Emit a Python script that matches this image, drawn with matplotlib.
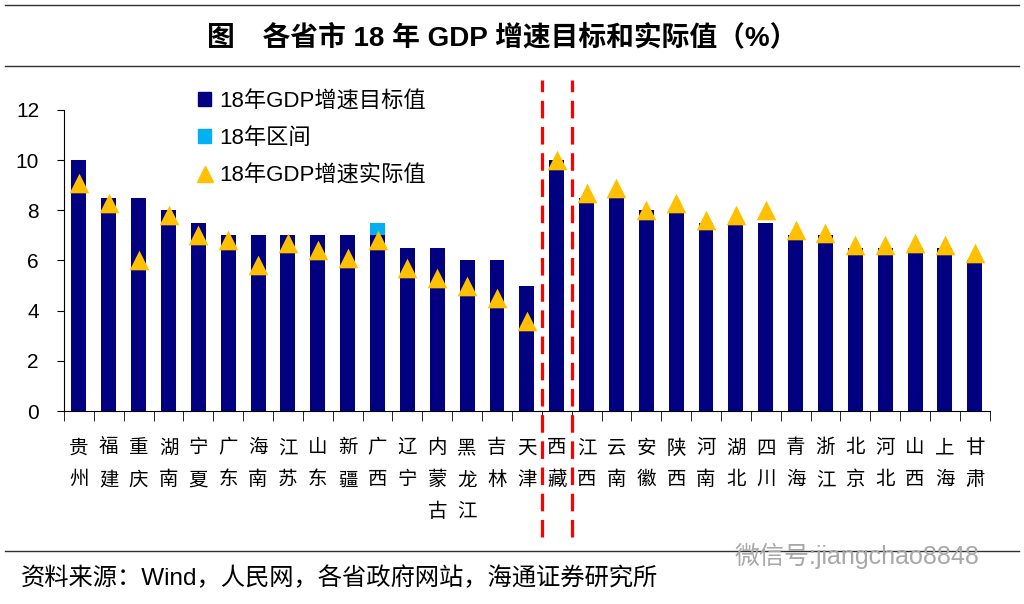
import numpy as np
import matplotlib.pyplot as plt
from matplotlib.lines import Line2D
from matplotlib.patches import Patch

plt.rcParams['font.family'] = ['Liberation Sans', 'Noto Sans CJK SC']

# 省份（竖排显示）
provinces = ['贵州', '福建', '重庆', '湖南', '宁夏', '广东', '海南', '江苏', '山东', '新疆',
             '广西', '辽宁', '内蒙古', '黑龙江', '吉林', '天津', '西藏', '江西', '云南', '安徽',
             '陕西', '河南', '湖北', '四川', '青海', '浙江', '北京', '河北', '山西', '上海', '甘肃']
# 18年GDP增速目标值
target = [10, 8.5, 8.5, 8, 7.5, 7, 7, 7, 7, 7,
          7, 6.5, 6.5, 6, 6, 5, 10, 8.5, 8.5, 8,
          8, 7.5, 7.5, 7.5, 7, 7, 6.5, 6.5, 6.5, 6.5, 6]
# 18年区间（目标上限 - 下限）
interval = [0, 0, 0, 0, 0, 0, 0, 0, 0, 0,
            0.5, 0, 0, 0, 0, 0, 0, 0, 0, 0,
            0, 0, 0, 0, 0, 0, 0, 0, 0, 0, 0]
# 18年GDP增速实际值
actual = [9.1, 8.3, 6.0, 7.8, 7.0, 6.8, 5.8, 6.7, 6.4, 6.1,
          6.8, 5.7, 5.3, 5.0, 4.5, 3.6, 10.0, 8.7, 8.9, 8.0,
          8.3, 7.6, 7.8, 8.0, 7.2, 7.1, 6.6, 6.6, 6.7, 6.6, 6.3]

navy = '#000080'
light_blue = '#00B0F0'
gold = '#FFC000'

fig = plt.figure(figsize=(10.24, 6.04), dpi=100)
ax = fig.add_axes([0.0625, 0.3195, 0.904, 0.4985])

x = np.arange(len(provinces))
ax.bar(x, target, width=0.5, color=navy, zorder=2)
ax.bar(x, interval, width=0.5, bottom=target, color=light_blue, zorder=2)
ax.scatter(x, actual, marker='^', s=200, color=gold, zorder=3, linewidths=0)

# 西藏两侧的红色虚线
for xv in [15.5, 16.5]:
    ax.axvline(xv, ymin=-0.42, ymax=1.1, color='#FF0000', linestyle=(0, (5.5, 2.7)),
               linewidth=2.3, clip_on=False, zorder=4)

ax.set_xlim(-0.5, len(provinces) - 0.5)
ax.set_ylim(0, 12)
ax.set_yticks(range(0, 13, 2))
ax.tick_params(axis='y', labelsize=15, length=5, direction='out', pad=13)
ax.set_xticks(x)
ax.set_xticklabels(['\n'.join(p) for p in provinces], fontsize=14, linespacing=1.68,
                   va='top', family=['Noto Sans CJK SC'])
ax.tick_params(axis='x', length=0, pad=19)
# 类别之间的刻度线
ax.set_xticks(np.arange(-0.5, len(provinces), 1), minor=True)
ax.tick_params(axis='x', which='minor', length=7, direction='out')
for s in ['top', 'right']:
    ax.spines[s].set_visible(False)

handles = [Patch(color=navy), Patch(color=light_blue),
           Line2D([], [], marker='^', color=gold, linestyle='', markersize=11)]
labels = ['18年GDP增速目标值', '18年区间', '18年GDP增速实际值']
ax.legend(handles, labels, loc='upper left', bbox_to_anchor=(0.135, 1.092), frameon=False,
          fontsize=16, handlelength=0.6, handleheight=0.6, handletextpad=0.35,
          labelspacing=0.72, borderaxespad=0)

# 标题与横线
fig.text(0.49, 0.937, '图　各省市 18 年 GDP 增速目标和实际值（%）', ha='center', va='center',
         fontsize=20, fontweight='bold')
fig.add_artist(Line2D([0.005, 0.995], [0.992, 0.992], color='#303030', linewidth=1))
fig.add_artist(Line2D([0.005, 0.995], [0.891, 0.891], color='#303030', linewidth=1))
fig.add_artist(Line2D([0.005, 0.995], [0.088, 0.088], color='#303030', linewidth=1))
fig.text(0.02, 0.043, '资料来源：Wind，人民网，各省政府网站，海通证券研究所', ha='left', va='center',
         fontsize=17.5)
fig.text(0.717, 0.08, '微信号:jiangchao8848', ha='left', va='center', fontsize=18,
         color='#A8A8A8')

fig.savefig('out.png', dpi=100)
